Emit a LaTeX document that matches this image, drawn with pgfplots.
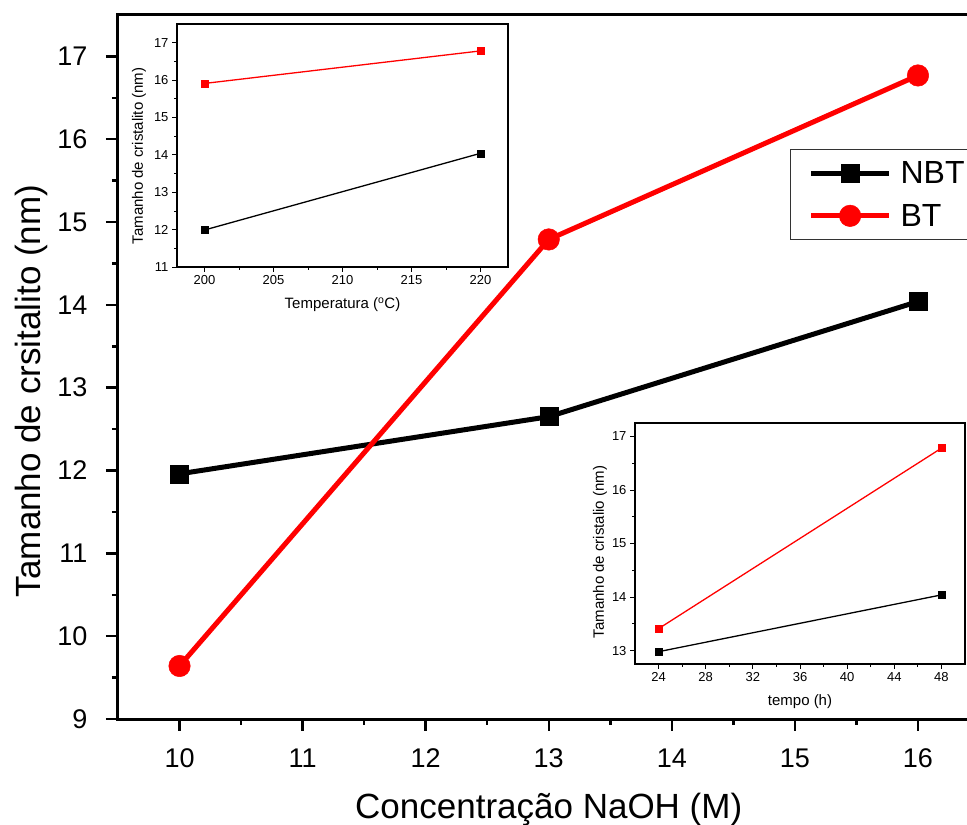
\documentclass[border=0pt]{standalone}
\usepackage{fontspec}
\setmainfont{Liberation Sans}
\usepackage{pgfplots}
\pgfplotsset{compat=1.18}
\definecolor{myred}{RGB}{255,0,0}
\begin{document}
\begin{tikzpicture}[x=1pt,y=1pt]
\begin{scope}
\clip (0,0) rectangle (967,825);
% main axis
\begin{axis}[
  at={(118pt,106pt)}, anchor=south west,
  scale only axis, width=861.5pt, height=704pt,
  xmin=9.5, xmax=16.5, ymin=9, ymax=17.5,
  xtick={10,...,16}, ytick={9,...,17},
  minor x tick num=1, minor y tick num=1,
  tick align=outside, xtick pos=bottom, ytick pos=left,
  major tick length=12pt, minor tick length=6pt,
  tick style={line width=2.5pt, black},
  axis line style={line width=3pt},
  /pgf/number format/assume math mode=true,
  ticklabel style={font=\fontsize{27}{30}\selectfont},
  xticklabel style={anchor=north, yshift=-14pt},
  yticklabel style={anchor=east, xshift=-15pt},
  xlabel={Concentração NaOH (M)}, ylabel={Tamanho de crsitalito (nm)},
  label style={font=\fontsize{35}{40}\selectfont},
  xlabel style={at={(axis description cs:0.5,-0.1286)},anchor=center},
  ylabel style={at={(axis description cs:-0.101,0.466)},anchor=center},
  legend style={at={(790pt-118pt,719pt-149pt)}, anchor=north west,
    draw=black!80, line width=1.2pt, font=\fontsize{32}{34}\selectfont,
    inner xsep=18pt, inner ysep=10pt, row sep=15pt, column sep=7pt, cells={anchor=west}},
  legend image code/.code={\draw[#1, mark repeat=2, mark phase=2] plot coordinates {(0pt,0pt) (39pt,0pt) (78pt,0pt)};},
]
\addplot[black, line width=5pt, mark=square*, mark size=9pt, mark options={solid, line width=0.5pt}] coordinates {(10,11.96) (13,12.65) (16,14.04)};
\addlegendentry{NBT}
\addplot[myred, line width=5pt, mark=*, mark size=10.75pt, mark options={solid, line width=0.5pt}] coordinates {(10,9.64) (13,14.79) (16,16.77)};
\addlegendentry{BT}
\end{axis}
% inset 1
\begin{axis}[
  at={(177pt,558pt)}, anchor=south west,
  scale only axis, width=331pt, height=243pt,
  xmin=198, xmax=222, ymin=11, ymax=17.5,
  xtick={200,205,...,220}, ytick={11,...,17},
  minor x tick num=1, minor y tick num=1,
  tick align=outside, xtick pos=bottom, ytick pos=left,
  major tick length=5pt, minor tick length=3pt,
  tick style={line width=0.8pt, black},
  axis line style={line width=1.3pt},
  axis background/.style={fill=white},
  /pgf/number format/assume math mode=true,
  ticklabel style={font=\fontsize{13}{15}\selectfont},
  xlabel={Temperatura (\textsuperscript{o}C)}, ylabel={Tamanho de cristalito (nm)},
  label style={font=\fontsize{15}{17}\selectfont},
  xlabel style={at={(axis description cs:0.5,-0.156)},anchor=center},
  ylabel style={at={(axis description cs:-0.115,0.457)},anchor=center},
]
\addplot[black, line width=1.3pt, mark=square*, mark size=3.5pt, mark options={solid, line width=0.5pt}] coordinates {(200,11.99) (220,14.04)};
\addplot[myred, line width=1.3pt, mark=square*, mark size=3.5pt, mark options={solid, line width=0.5pt}] coordinates {(200,15.91) (220,16.78)};
\end{axis}
% inset 2
\begin{axis}[
  at={(635pt,161pt)}, anchor=south west,
  scale only axis, width=330pt, height=241pt,
  xmin=22, xmax=50, ymin=12.75, ymax=17.25,
  xtick={24,28,...,48}, ytick={13,...,17},
  minor x tick num=1, minor y tick num=1,
  tick align=outside, xtick pos=bottom, ytick pos=left,
  major tick length=5pt, minor tick length=3pt,
  tick style={line width=0.8pt, black},
  axis line style={line width=1.3pt},
  axis background/.style={fill=white},
  /pgf/number format/assume math mode=true,
  ticklabel style={font=\fontsize{13}{15}\selectfont},
  xlabel={tempo (h)}, ylabel={Tamanho de cristalio (nm)},
  label style={font=\fontsize{15}{17}\selectfont},
  xlabel style={at={(axis description cs:0.5,-0.158)},anchor=center},
  ylabel style={at={(axis description cs:-0.106,0.465)},anchor=center},
]
\addplot[black, line width=1.3pt, mark=square*, mark size=3.5pt, mark options={solid, line width=0.5pt}] coordinates {(24,12.98) (48,14.04)};
\addplot[myred, line width=1.3pt, mark=square*, mark size=3.5pt, mark options={solid, line width=0.5pt}] coordinates {(24,13.41) (48,16.78)};
\end{axis}
\end{scope}
\pgfresetboundingbox
\useasboundingbox (0,0) rectangle (967,825);
\end{tikzpicture}
\end{document}
